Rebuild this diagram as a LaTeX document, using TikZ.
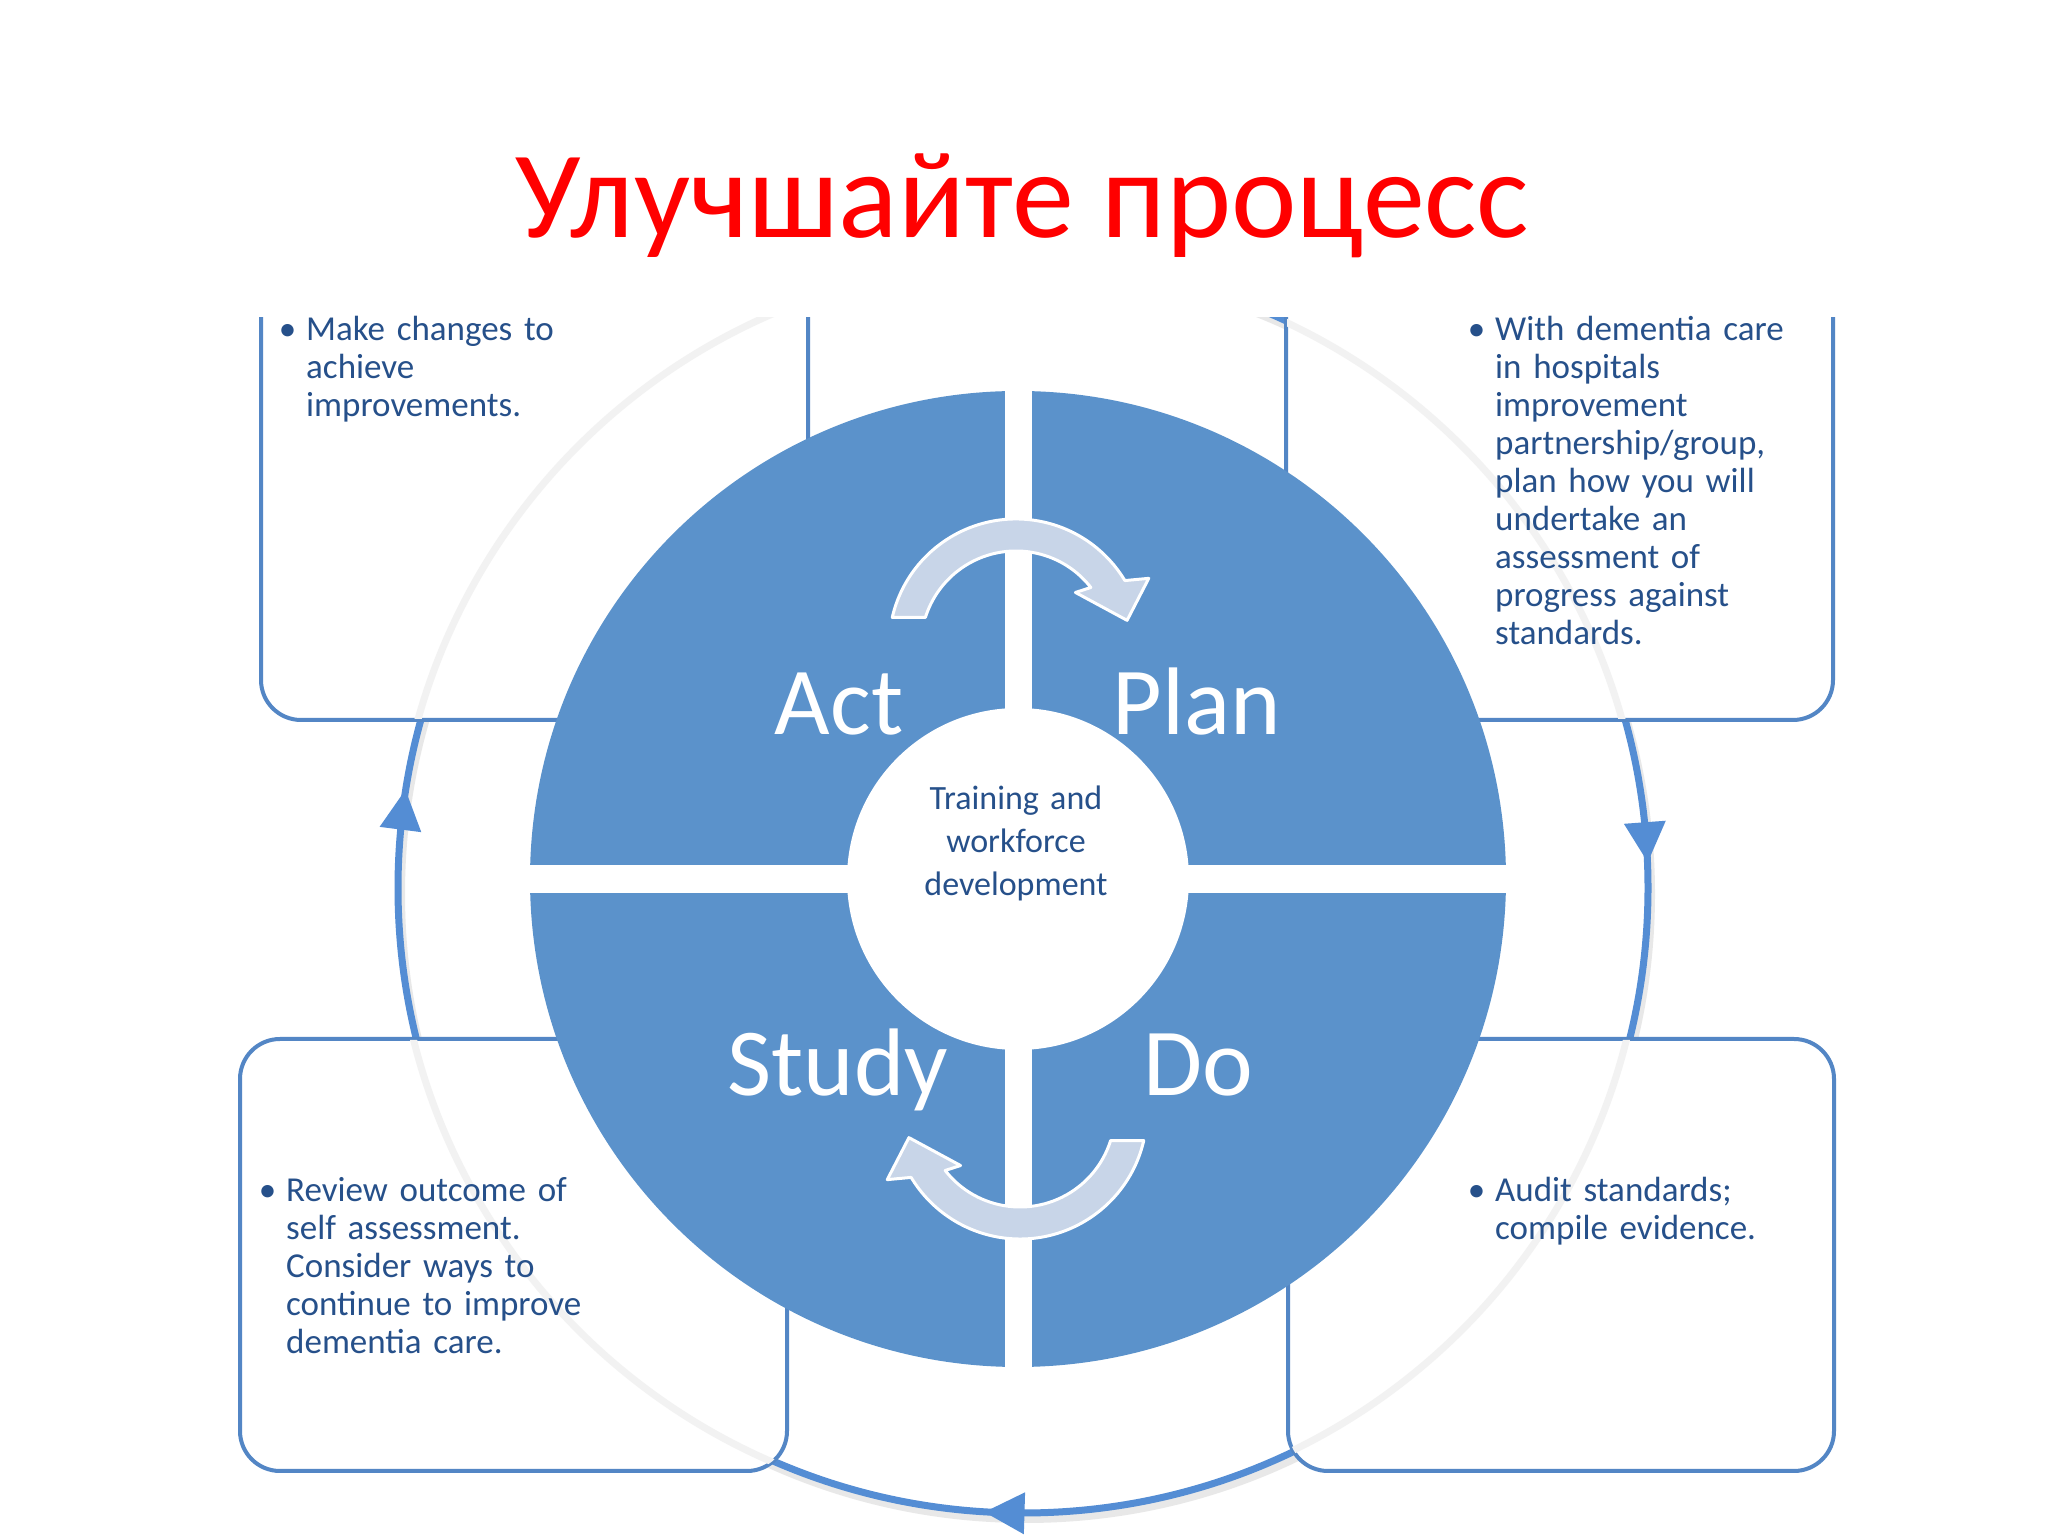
\documentclass[tikz,border=0pt]{standalone}
\usepackage{fontspec}
\setmainfont{Carlito}
\usetikzlibrary{calc}
\definecolor{diskblue}{RGB}{91,146,203}
\definecolor{ringblue}{RGB}{84,141,212}
\definecolor{boxblue}{RGB}{83,134,197}
\definecolor{textblue}{RGB}{38,80,138}
\definecolor{arrowgrey}{RGB}{200,213,232}

\begin{document}
\begin{tikzpicture}[x=1pt, y=1pt,
  infobox/.style={draw=boxblue, line width=4pt, fill=white, rounded corners=40pt, inner sep=0pt, anchor=south west},
  boxtext/.style={text=textblue, font=\fontsize{35}{38}\selectfont, text width=420pt, align=left, inner sep=0pt, anchor=base west},
  phase/.style={text=white, font=\fontsize{96}{100}\selectfont, inner sep=0pt, anchor=base},
  cycarrow/.style={fill=arrowgrey, draw=white, line width=3pt, line join=round},
  ringtip/.style={fill=ringblue, draw=none}]
\useasboundingbox (0,0) rectangle (2048,1536);
\fill[white] (0,0) rectangle (2048,1536);

\node[text=red, font=\fontsize{124}{130}\selectfont, anchor=base] (title) at (1022,1298) {Улучшайте процесс};

\begin{scope}
\clip (0,0) rectangle (2048,1218);
\coordinate (ringc) at (1023,648);
\draw[black!15, line width=8pt, opacity=.6] ($(ringc)+(3,-6)$) circle[radius=625];
\draw[ringblue, line width=7pt] (ringc) circle[radius=625];
\foreach \a in {172.8,4.2,268.3}
  \fill[ringtip, shift={(ringc)}, rotate=\a] (604,20) -- (646,20) -- (625,-20) -- cycle;

\node[infobox, minimum width=547pt, minimum height=620pt] (actbox) at (259,814) {};
\node[infobox, minimum width=547pt, minimum height=620pt] (planbox) at (1284,814) {};
\node[infobox, minimum width=547pt, minimum height=432pt] (studybox) at (238,63) {};
\node[infobox, minimum width=546pt, minimum height=432pt] (dobox) at (1286,63) {};

\begin{scope}
\clip[rounded corners=38pt]
  ($(actbox.south west)+(3,3)$) rectangle ($(actbox.north east)-(3,3)$)
  ($(planbox.south west)+(3,3)$) rectangle ($(planbox.north east)-(3,3)$)
  ($(studybox.south west)+(3,3)$) rectangle ($(studybox.north east)-(3,3)$)
  ($(dobox.south west)+(3,3)$) rectangle ($(dobox.north east)-(3,3)$);
\draw[black!5, line width=7pt] ($(ringc)+(-3,0)$) circle[radius=625];
\end{scope}

\node[circle, fill=diskblue, minimum size=976pt, inner sep=0pt] (disk) at (1018,657) {};
\fill[white] ($(disk.west)+(-2,-14)$) rectangle ($(disk.east)+(2,14)$);
\fill[white] ($(disk.south)+(-13.5,-2)$) rectangle ($(disk.north)+(13.5,2)$);
\node[circle, fill=white, minimum size=342pt, inner sep=0pt] (hub) at (disk) {};

\foreach \r in {0,180} {
  \begin{scope}[shift={(disk.center)}, rotate=\r, shift={(-2,233)}]
  \draw[cycarrow] (167:127) arc[start angle=167, end angle=31, radius=127]
    -- (27:149) -- (13:114) -- (42:80) -- (38:95)
    arc[start angle=38, end angle=162.5, radius=95] -- cycle;
  \end{scope}
}
\end{scope}

\node[phase] (act) at (839,801) {Act};
\node[phase] (plan) at (1197,801) {Plan};
\node[phase] (study) at (838,440) {Study};
\node[phase] (do) at (1198,440) {Do};

\node[text=textblue, font=\fontsize{34}{43}\selectfont, text width=300pt, align=center, inner sep=0pt, anchor=base] (hubtext) at (1016,726) {Training and\\workforce\\development};

\node[boxtext] (acttext) at (306,1195) {\llap{\textbullet\hspace{10pt}}Make changes to\\achieve\\improvements.};
\node[boxtext] (plantext) at (1495,1195) {\llap{\textbullet\hspace{10pt}}With dementia care\\in hospitals\\improvement\\partnership/group,\\plan how you will\\undertake an\\assessment of\\progress against\\standards.};
\node[boxtext] (studytext) at (286,334) {\llap{\textbullet\hspace{10pt}}Review outcome of\\self assessment.\\Consider ways to\\continue to improve\\dementia care.};
\node[boxtext] (dotext) at (1495,334) {\llap{\textbullet\hspace{10pt}}Audit standards;\\compile evidence.};
\end{tikzpicture}
\end{document}
